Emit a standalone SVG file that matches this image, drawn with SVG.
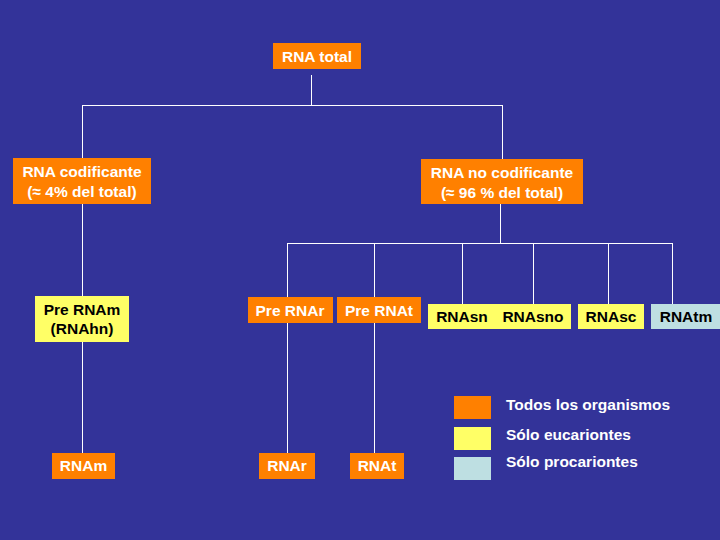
<svg xmlns="http://www.w3.org/2000/svg" width="720" height="540" viewBox="0 0 720 540">
<style>
text{font-family:"Liberation Sans",Arial,sans-serif;font-weight:bold;font-size:15.5px;text-anchor:middle}
.o{fill:#FF8000}.y{fill:#FFFF66}.b{fill:#BEDFE2}
.w{fill:#FFFFFF}.k{fill:#000000}
.c line{stroke:#FFFFFF;stroke-width:1;shape-rendering:crispEdges}
</style>
<rect width="720" height="540" fill="#333399"/>
<g class="c" id="connectors">
<line x1="311.5" y1="75" x2="311.5" y2="105"/>
<line x1="82" y1="105.5" x2="503" y2="105.5"/>
<line x1="82.5" y1="105" x2="82.5" y2="158"/>
<line x1="502.5" y1="105" x2="502.5" y2="159"/>
<line x1="82.5" y1="204" x2="82.5" y2="296"/>
<line x1="82.5" y1="342" x2="82.5" y2="453"/>
<line x1="500.5" y1="204" x2="500.5" y2="243"/>
<line x1="287" y1="243.5" x2="673" y2="243.5"/>
<line x1="287.5" y1="243" x2="287.5" y2="297"/>
<line x1="374.5" y1="243" x2="374.5" y2="297"/>
<line x1="462.5" y1="243" x2="462.5" y2="304"/>
<line x1="533.5" y1="243" x2="533.5" y2="304"/>
<line x1="608.5" y1="243" x2="608.5" y2="304"/>
<line x1="672.5" y1="243" x2="672.5" y2="304"/>
<line x1="287.5" y1="323" x2="287.5" y2="453"/>
<line x1="374.5" y1="323" x2="374.5" y2="453"/>
</g>
<g id="rna-total"><rect class="o" x="273" y="43" width="88" height="26"/><text class="w" x="317" y="62">RNA total</text></g>
<g id="rna-codificante"><rect class="o" x="13" y="158" width="138" height="46"/><text class="w" x="82" y="177">RNA codificante</text><text class="w" x="82" y="197">(≈ 4% del total)</text></g>
<g id="rna-no-codificante"><rect class="o" x="421" y="159" width="162" height="45"/><text class="w" x="502" y="178">RNA no codificante</text><text class="w" x="502" y="198">(≈ 96 % del total)</text></g>
<g id="pre-rnam"><rect class="y" x="35" y="296" width="94" height="46"/><text class="k" x="82" y="315">Pre RNAm</text><text class="k" x="82" y="334">(RNAhn)</text></g>
<g id="pre-rnar"><rect class="o" x="248" y="297" width="85" height="26"/><text class="w" x="290" y="316">Pre RNAr</text></g>
<g id="pre-rnat"><rect class="o" x="337" y="297" width="84" height="26"/><text class="w" x="379" y="316">Pre RNAt</text></g>
<g id="rnasn-rnasno"><rect class="y" x="428" y="304" width="143" height="25"/><text class="k" x="462" y="322">RNAsn</text><text class="k" x="533" y="322">RNAsno</text></g>
<g id="rnasc"><rect class="y" x="578" y="304" width="66" height="25"/><text class="k" x="611" y="322">RNAsc</text></g>
<g id="rnatm"><rect class="b" x="651" y="304" width="72" height="25"/><text class="k" x="686" y="322">RNAtm</text></g>
<g id="rnam"><rect class="o" x="52" y="453" width="63" height="26"/><text class="w" x="83.5" y="471">RNAm</text></g>
<g id="rnar"><rect class="o" x="259" y="453" width="56" height="26"/><text class="w" x="287" y="471">RNAr</text></g>
<g id="rnat"><rect class="o" x="350" y="453" width="54" height="26"/><text class="w" x="377" y="471">RNAt</text></g>
<g id="legend">
<rect class="o" x="454" y="396" width="37" height="23"/>
<rect class="y" x="454" y="427" width="37" height="23"/>
<rect class="b" x="454" y="457" width="37" height="23"/>
<text class="w" x="506" y="410" style="text-anchor:start">Todos los organismos</text>
<text class="w" x="506" y="440" style="text-anchor:start">Sólo eucariontes</text>
<text class="w" x="506" y="467" style="text-anchor:start">Sólo procariontes</text>
</g>
</svg>
